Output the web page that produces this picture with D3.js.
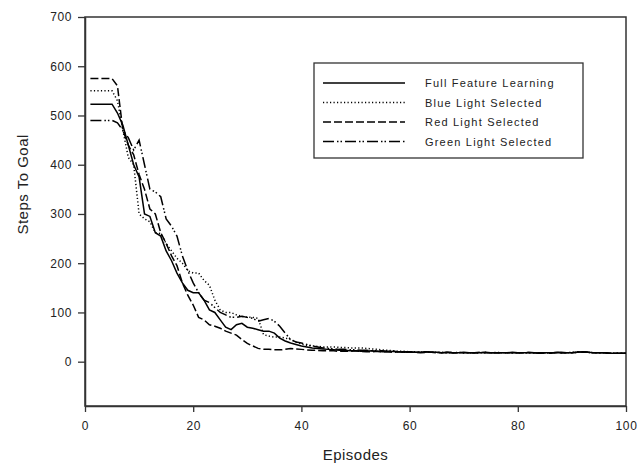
<!DOCTYPE html>
<html>
<head>
<meta charset="utf-8">
<script src="https://d3js.org/d3.v7.min.js"></script>
<style>
  body { margin: 0; background: #fff; }
  text { font-family: "Liberation Sans", Arial, sans-serif; fill: #222; }
</style>
</head>
<body>
<div id="chart"></div>
<script>
// episodes 1..100
const episodes = d3.range(1, 101);

const fullFeature = [
  523,523,523,523,523,505,480,440,400,375,
  300,295,262,255,225,205,180,160,145,140,
  140,125,105,100,85,70,65,75,78,70,
  68,65,62,62,58,48,42,38,35,32,
  30,28,27,26,25,24,23,23,22,22,
  21,21,22,21,20,20,21,20,19,20,
  19,19,20,19,19,18,19,18,18,19,
  18,18,18,19,18,18,18,18,19,18,
  18,18,18,17,18,18,18,19,18,18,
  19,20,19,18,18,18,17,17,17,17
];

const blueLight = [
  550,550,550,550,550,530,470,415,400,300,
  290,284,262,260,240,225,210,200,185,180,
  180,165,155,125,105,100,100,95,92,90,
  90,88,55,52,50,50,48,45,40,36,
  33,32,31,30,30,30,29,29,28,28,
  28,27,26,25,24,23,22,21,21,20,
  20,20,19,19,19,19,18,18,19,18,
  18,18,18,18,18,19,18,18,18,18,
  18,18,18,18,18,18,19,18,18,18,
  19,20,19,18,18,18,17,17,17,17
];

const redLight = [
  575,575,575,575,575,560,470,440,420,380,
  350,310,300,262,240,215,195,160,135,115,
  90,85,75,72,68,62,58,54,45,37,
  32,27,25,25,24,24,25,27,26,25,
  24,23,23,22,22,22,21,21,21,22,
  21,20,20,21,20,20,19,20,19,19,
  19,18,19,19,18,18,19,18,18,18,
  18,18,19,18,18,18,18,18,18,18,
  18,19,18,18,18,17,18,18,18,18,
  19,20,19,18,18,18,17,17,17,17
];

const greenLight = [
  490,490,490,490,490,485,470,455,430,450,
  400,350,345,335,290,275,255,215,185,160,
  140,125,120,110,100,95,90,90,92,90,
  88,82,85,88,82,72,58,45,40,38,
  35,32,30,28,27,26,25,25,24,24,
  23,23,22,22,22,21,21,20,20,20,
  19,19,20,19,19,18,19,18,18,18,
  18,18,18,19,18,18,18,18,18,18,
  18,18,18,17,18,18,19,18,18,19,
  20,19,19,18,18,18,17,17,17,17
];

const seriesNames = ["Full Feature Learning", "Blue Light Selected", "Red Light Selected", "Green Light Selected"];
const seriesValues = [fullFeature, blueLight, redLight, greenLight];
const dashes = [null, "1.2,2.3", "8,3", "11,3,1.5,2,1.5,3"];

const xTicks = [0, 20, 40, 60, 80, 100];
const yTicks = [0, 100, 200, 300, 400, 500, 600, 700];

const svgWidth = 644;
const svgHeight = 468;
const margin = { top: 17, right: 18, bottom: 62, left: 85 };
const width = svgWidth - margin.left - margin.right;
const height = svgHeight - margin.top - margin.bottom;

const svg = d3.select("#chart")
  .append("svg")
  .attr("width", svgWidth)
  .attr("height", svgHeight);

const chartGroup = svg.append("g")
  .attr("transform", `translate(${margin.left},${margin.top})`);

const xScale = d3.scaleLinear().domain([0, 100]).range([0, width]);
const yScale = d3.scaleLinear().domain([-90, 700]).range([height, 0]);

// frame
chartGroup.append("rect")
  .attr("width", width)
  .attr("height", height)
  .attr("fill", "none")
  .attr("stroke", "#333")
  .attr("stroke-width", 1.5);

// axes
const bottomAxis = d3.axisBottom(xScale).tickValues(xTicks).tickSize(6).tickPadding(9).tickSizeOuter(0);
const leftAxis = d3.axisLeft(yScale).tickValues(yTicks).tickSize(7).tickPadding(6).tickSizeOuter(0);

const xAxis = chartGroup.append("g")
  .attr("transform", `translate(0, ${height})`)
  .call(bottomAxis);
const yAxis = chartGroup.append("g").call(leftAxis);

[xAxis, yAxis].forEach(ax => {
  ax.select(".domain").attr("stroke", "#333").attr("stroke-width", 1.5);
  ax.selectAll(".tick line").attr("stroke", "#333").attr("stroke-width", 1.3);
  ax.selectAll(".tick text")
    .attr("fill", "#222")
    .style("font-family", "'Liberation Sans', Arial, sans-serif")
    .style("font-size", "12px")
    .style("letter-spacing", "0.6px");
});

// lines
const line = d3.line()
  .x((d, i) => xScale(episodes[i]))
  .y(d => yScale(d));

seriesValues.forEach((vals, k) => {
  chartGroup.append("path")
    .datum(vals)
    .attr("d", line)
    .attr("fill", "none")
    .attr("stroke", "#000")
    .attr("stroke-width", 1.5)
    .attr("stroke-dasharray", dashes[k]);
});

// axis titles
chartGroup.append("text")
  .attr("x", width / 2)
  .attr("y", height + 54)
  .attr("text-anchor", "middle")
  .style("font-size", "15px")
  .style("letter-spacing", "0.5px")
  .text("Episodes");

chartGroup.append("text")
  .attr("transform", "rotate(-90)")
  .attr("x", -(yScale(0) + yScale(700)) / 2 + 5)
  .attr("y", -margin.left + 28)
  .attr("text-anchor", "middle")
  .style("font-size", "15px")
  .style("letter-spacing", "0.5px")
  .text("Steps To Goal");

// legend
const legend = svg.append("g").attr("transform", "translate(314, 63)");
legend.append("rect")
  .attr("width", 269)
  .attr("height", 95)
  .attr("fill", "#fff")
  .attr("stroke", "#333")
  .attr("stroke-width", 1.3);

seriesNames.forEach((name, k) => {
  const y = 20 + k * 19.5;
  legend.append("line")
    .attr("x1", 9).attr("x2", 91)
    .attr("y1", y).attr("y2", y)
    .attr("stroke", "#000")
    .attr("stroke-width", 1.5)
    .attr("stroke-dasharray", dashes[k]);
  legend.append("text")
    .attr("x", 111)
    .attr("y", y + 4)
    .style("font-size", "11px")
    .style("letter-spacing", "1.2px")
    .text(name);
});
</script>
</body>
</html>
